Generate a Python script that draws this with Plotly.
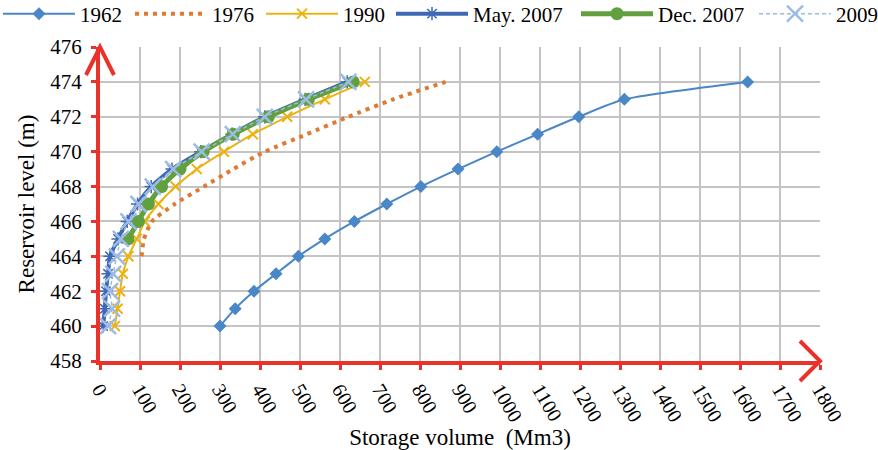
import plotly.graph_objects as go

levels = [460, 461, 462, 463, 464, 465, 466, 467, 468, 469, 470, 471, 472, 473, 474]
levels_1976 = [464, 465, 466, 467, 468, 469, 470, 471, 472, 473, 474]
levels_dec2007 = [465, 466, 467, 468, 469, 470, 471, 472, 473, 474]

vol_1962 = [300, 338, 385, 440, 496, 562, 636, 717, 802, 895, 992, 1094, 1197, 1311, 1619]
vol_1976 = [104, 110, 130, 187, 260, 333, 412, 517, 621, 733, 864]
vol_1990 = [37, 44, 50, 57, 71, 92, 112, 146, 189, 242, 310, 382, 468, 562, 662]
vol_may2007 = [8, 12, 15, 20, 25, 45, 68, 94, 128, 180, 252, 330, 412, 513, 618]
vol_dec2007 = [70, 96, 121, 154, 200, 258, 333, 421, 521, 633]
vol_2009 = [20, 30, 25, 33, 42, 52, 71, 96, 132, 183, 254, 332, 412, 515, 621]

x_ticks = list(range(0, 1801, 100))
y_ticks = list(range(458, 477, 2))

FONT = "Liberation Serif"
RED = "#E8322A"

fig = go.Figure()

fig.add_trace(go.Scatter(
    x=vol_1962, y=levels, name="1962", mode="lines+markers", legend="legend",
    line=dict(color="#4A87C6", width=2, shape="spline", smoothing=0.6),
    marker=dict(symbol="diamond", size=10, color="#4A87C6")))
fig.add_trace(go.Scatter(
    x=vol_1976, y=levels_1976, name="1976", mode="lines", legend="legend2",
    line=dict(color="#E07A33", width=4, dash="4px,5px", shape="spline", smoothing=0.6)))
fig.add_trace(go.Scatter(
    x=vol_1990, y=levels, name="1990", mode="lines+markers", legend="legend3",
    line=dict(color="#EBB312", width=2, shape="spline", smoothing=0.6),
    marker=dict(symbol="x-thin", size=10, line=dict(color="#EBB312", width=2), color="#EBB312")))
fig.add_trace(go.Scatter(
    x=vol_may2007, y=levels, name="May. 2007", mode="lines+markers", legend="legend4",
    line=dict(color="#3F68B5", width=4, shape="spline", smoothing=0.6),
    marker=dict(symbol="asterisk", size=11, line=dict(color="#3F68B5", width=1.5), color="#3F68B5")))
fig.add_trace(go.Scatter(
    x=vol_dec2007, y=levels_dec2007, name="Dec. 2007", mode="lines+markers", legend="legend5",
    line=dict(color="#62A03F", width=5, shape="spline", smoothing=0.6),
    marker=dict(symbol="circle", size=13, color="#62A03F")))
fig.add_trace(go.Scatter(
    x=vol_2009, y=levels, name="2009", mode="lines+markers", legend="legend6",
    line=dict(color="#9CBCE3", width=1.5, dash="4px,3px", shape="spline", smoothing=0.6),
    marker=dict(symbol="x-thin", size=16, line=dict(color="#9CBCE3", width=2.5), color="#9CBCE3")))

shapes = [
    # y-axis arrow head (top)
    dict(type="path", xref="paper", yref="paper", xsizemode="pixel", ysizemode="pixel",
         xanchor=0, yanchor=1, path="M -14,-28 L 0,0 L 14,-28",
         line=dict(color=RED, width=4)),
    # x-axis arrow head (right)
    dict(type="path", xref="paper", yref="paper", xsizemode="pixel", ysizemode="pixel",
         xanchor=1, yanchor=0, path="M -20,20 L 0,0 L -20,-20",
         line=dict(color=RED, width=4)),
]

PLOT_L, PLOT_W, PLOT_T, PLOT_H = 100, 720, 47, 314
legend_starts = [-2, 130, 261, 391, 576, 754]
legend_y = 1 + (PLOT_T - 14) / PLOT_H


def leg(px):
    return dict(orientation="h", x=(px - PLOT_L) / PLOT_W, xanchor="left",
                y=legend_y, yanchor="middle",
                font=dict(family=FONT, size=21), itemwidth=72,
                bgcolor="rgba(0,0,0,0)")


fig.update_layout(
    width=878, height=450,
    margin=dict(l=PLOT_L, r=878 - PLOT_L - PLOT_W, t=PLOT_T, b=450 - PLOT_T - PLOT_H, autoexpand=False),
    paper_bgcolor="white", plot_bgcolor="white",
    font=dict(family=FONT, size=21, color="black"),
    showlegend=True,
    legend=leg(legend_starts[0]),
    legend2=leg(legend_starts[1]),
    legend3=leg(legend_starts[2]),
    legend4=leg(legend_starts[3]),
    legend5=leg(legend_starts[4]),
    legend6=leg(legend_starts[5]),
    shapes=shapes,
    xaxis=dict(range=[0, 1800], tickvals=x_ticks, ticktext=[str(v) for v in x_ticks],
               tickangle=60, tickfont=dict(family=FONT, size=20),
               showgrid=True, gridcolor="#C4C4C4", gridwidth=1.5,
               showline=True, linecolor=RED, linewidth=4,
               ticks="outside", ticklen=5, tickwidth=3, tickcolor=RED,
               zeroline=False,
               title=dict(text="Storage volume  (Mm3)", font=dict(family=FONT, size=23))),
    yaxis=dict(range=[458, 476], tickvals=y_ticks, ticktext=[str(v) for v in y_ticks],
               tickfont=dict(family=FONT, size=21), ticklabelstandoff=5,
               showgrid=True, gridcolor="#C4C4C4", gridwidth=1.5,
               showline=True, linecolor=RED, linewidth=4,
               ticks="outside", ticklen=5, tickwidth=3, tickcolor=RED,
               zeroline=False,
               title=dict(text="Reservoir level (m)", font=dict(family=FONT, size=23), standoff=10)),
)

fig.write_html("out.html", config={"displayModeBar": False},
               post_script="document.body.style.margin='0';")
